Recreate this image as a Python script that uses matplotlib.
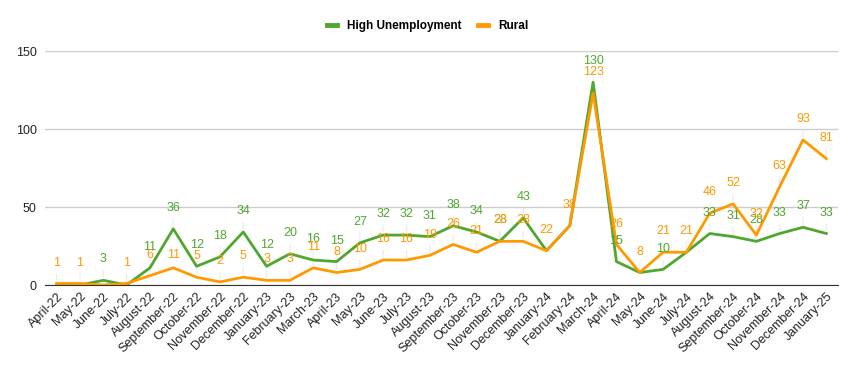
import matplotlib.pyplot as plt
from matplotlib.lines import Line2D
import numpy as np

plt.rcParams['font.family'] = ['Liberation Sans', 'DejaVu Sans']

months = ['April-22', 'May-22', 'June-22', 'July-22', 'August-22', 'September-22',
          'October-22', 'November-22', 'December-22', 'January-23', 'February-23',
          'March-23', 'April-23', 'May-23', 'June-23', 'July-23', 'August-23',
          'September-23', 'October-23', 'November-23', 'December-23', 'January-24',
          'February-24', 'March-24', 'April-24', 'May-24', 'June-24', 'July-24',
          'August-24', 'September-24', 'October-24', 'November-24', 'December-24',
          'January-25']
high_unemp = [0, 0, 3, 0, 11, 36, 12, 18, 34, 12, 20, 16, 15, 27, 32, 32, 31, 38, 34,
              28, 43, 22, 38, 130, 15, 8, 10, 21, 33, 31, 28, 33, 37, 33]
rural = [1, 1, 0, 1, 6, 11, 5, 2, 5, 3, 3, 11, 8, 10, 16, 16, 19, 26, 21, 28, 28, 22,
         38, 123, 26, 8, 21, 21, 46, 52, 32, 63, 93, 81]

# labels google charts hid because they collided
hide_green = [0, 1, 3, 21, 22, 25, 27]
hide_orange = [2]
# orange labels that sit closer to their point
short_orange = [5]

green = '#4fa72f'
orange = '#ff9900'

fig = plt.figure(figsize=(8.57, 3.71), dpi=100)
ax = fig.add_axes([45 / 857, 1 - 285 / 371, (838 - 45) / 857, (285 - 51) / 371])

x = np.arange(len(months))
ax.plot(x, high_unemp, color=green, lw=2, zorder=3)
ax.plot(x, rural, color=orange, lw=2, zorder=4)

for i in x:
    if i not in hide_green:
        ax.annotate(str(high_unemp[i]), (i, high_unemp[i]), xytext=(0, 15),
                    textcoords='offset points', ha='center', va='center',
                    color=green, fontsize=9, zorder=5, annotation_clip=False)
        ax.annotate('', (i, high_unemp[i]), xytext=(0, 9), textcoords='offset points',
                    arrowprops=dict(arrowstyle='-', color='#eeeeee', lw=1), zorder=1)
    if i not in hide_orange:
        off = 9 if i in short_orange else 15
        ax.annotate(str(rural[i]), (i, rural[i]), xytext=(0, off),
                    textcoords='offset points', ha='center', va='center',
                    color=orange, fontsize=9, zorder=6, annotation_clip=False)
        ax.annotate('', (i, rural[i]), xytext=(0, off - 6), textcoords='offset points',
                    arrowprops=dict(arrowstyle='-', color='#eeeeee', lw=1), zorder=1)

ax.set_xlim(-0.5, len(months) - 0.5)
ax.set_ylim(0, 150)
ax.set_yticks([0, 50, 100, 150])
ax.set_xticks(x)
ax.set_xticklabels(months, rotation=45, ha='right', rotation_mode='anchor', fontsize=9,
                   color='#222222')
ax.tick_params(axis='y', labelsize=9, colors='#222222', length=0, pad=6)
ax.tick_params(axis='x', length=0, pad=4)
ax.grid(axis='y', color='#cccccc', lw=1)
ax.set_axisbelow(True)
for s in ['top', 'right', 'left']:
    ax.spines[s].set_visible(False)
ax.spines['bottom'].set_color('#333333')
ax.spines['bottom'].set_zorder(2)

handles = [Line2D([], [], color=green, lw=3.5), Line2D([], [], color=orange, lw=3.5)]
fig.legend(handles, ['High Unemployment', 'Rural'], loc='center',
           bbox_to_anchor=(0.499, 1 - 26 / 371), ncol=2, frameon=False,
           prop={'weight': 'bold', 'size': 8.5}, handlelength=0.85, columnspacing=1.45,
           handletextpad=0.85)

plt.savefig('out.png', dpi=100)
